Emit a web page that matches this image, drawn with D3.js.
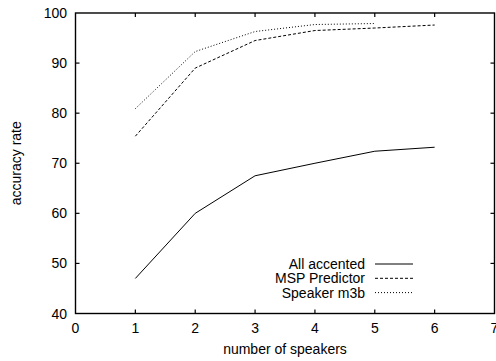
<!DOCTYPE html>
<html><head><meta charset="utf-8">
<script src="https://cdn.jsdelivr.net/npm/d3@7"></script>
<style>
html,body{margin:0;padding:0;background:#fff;}
text{font-family:"Liberation Sans",Arial,Helvetica,sans-serif;}
</style></head>
<body>
<svg id="chart" width="496" height="361"></svg>
<script>
const speakers = [1, 2, 3, 4, 5, 6];
const allAccented = [47, 60, 67.5, 70, 72.4, 73.2];
const mspPredictor = [75.4, 89, 94.5, 96.5, 97, 97.6];
const speakerM3b = [80.9, 92.3, 96.3, 97.7, 97.9];
const seriesNames = ["All accented", "MSP Predictor", "Speaker m3b"];
const xTicks = [0, 1, 2, 3, 4, 5, 6, 7];
const yTicks = [40, 50, 60, 70, 80, 90, 100];

const svg = d3.select("#chart");
const L = 75.5, R = 494.5, T = 13, B = 313.5;
const x = d3.scaleLinear().domain([0, 7]).range([L, R]);
const y = d3.scaleLinear().domain([40, 100]).range([B, T]);
const fs = 14;

const series = [
  {name: seriesNames[0], vals: allAccented, dash: null},
  {name: seriesNames[1], vals: mspPredictor, dash: "3,2"},
  {name: seriesNames[2], vals: speakerM3b, dash: "1,2"}
];

const line = d3.line().x(d => x(d[0])).y(d => y(d[1]));
series.forEach(s => {
  const pts = s.vals.map((v, i) => [speakers[i], v]);
  svg.append("path").attr("d", line(pts)).attr("fill", "none")
    .attr("stroke", "#000").attr("stroke-width", 1)
    .attr("stroke-dasharray", s.dash);
});

// frame
svg.append("rect").attr("x", L).attr("y", T).attr("width", R - L).attr("height", B - T)
  .attr("fill", "none").attr("stroke", "#000").attr("stroke-width", 1.4);

// ticks inward
const tl = 4;
xTicks.filter(t => t > 0 && t < 7).forEach(t => {
  svg.append("line").attr("x1", x(t)).attr("x2", x(t)).attr("y1", B).attr("y2", B - tl).attr("stroke", "#000").attr("stroke-width", 1.2);
  svg.append("line").attr("x1", x(t)).attr("x2", x(t)).attr("y1", T).attr("y2", T + tl).attr("stroke", "#000").attr("stroke-width", 1.2);
});
yTicks.filter(t => t > 40 && t < 100).forEach(t => {
  svg.append("line").attr("x1", L).attr("x2", L + tl).attr("y1", y(t)).attr("y2", y(t)).attr("stroke", "#000").attr("stroke-width", 1.2);
  svg.append("line").attr("x1", R).attr("x2", R - tl).attr("y1", y(t)).attr("y2", y(t)).attr("stroke", "#000").attr("stroke-width", 1.2);
});

// tick labels
xTicks.forEach(t => {
  svg.append("text").attr("x", x(t)).attr("y", 333).attr("text-anchor", "middle")
    .attr("font-size", fs).text(t);
});
yTicks.forEach(t => {
  svg.append("text").attr("x", 67).attr("y", y(t) + 5).attr("text-anchor", "end")
    .attr("font-size", fs).text(t);
});

// axis labels
svg.append("text").attr("x", (L + R) / 2).attr("y", 354).attr("text-anchor", "middle")
  .attr("font-size", 14).text("number of speakers");
svg.append("text").attr("transform", `translate(21,${(T + B) / 2}) rotate(-90)`)
  .attr("text-anchor", "middle").attr("font-size", 14).text("accuracy rate");

// legend
series.forEach((s, i) => {
  const ly = 264 + i * 14.3;
  svg.append("text").attr("x", 365).attr("y", ly + 5).attr("text-anchor", "end")
    .attr("font-size", fs).text(s.name);
  svg.append("line").attr("x1", 375).attr("x2", 413).attr("y1", ly).attr("y2", ly)
    .attr("stroke", "#000").attr("stroke-width", 1).attr("stroke-dasharray", s.dash);
});
</script>
</body></html>
